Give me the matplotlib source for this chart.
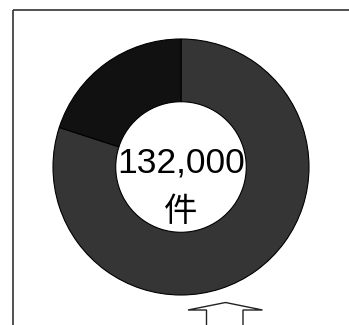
import matplotlib
matplotlib.use('Agg')
import matplotlib.pyplot as plt
from matplotlib.patches import Rectangle, Polygon

# data
labels = ['その他', '該当']
shares = [80, 20]
colors = ['#353535', '#111111']
total_label = '132,000'
unit_label = '件'

W, H = 349, 325
fig = plt.figure(figsize=(W / 100, H / 100), dpi=100)
fig.patch.set_facecolor('white')

# background axes in pixel coordinates (frame + arrow)
bg = fig.add_axes([0, 0, 1, 1])
bg.set_xlim(0, W)
bg.set_ylim(H, 0)
bg.axis('off')
bg.add_patch(Rectangle((12.5, 9.5), 400, 400, fill=False, edgecolor='#333333', linewidth=1.2))
arrow = [(225.5, 302.5), (262.5, 310), (243, 310), (243, 340),
         (206.5, 340), (206.5, 310), (188, 310)]
bg.add_patch(Polygon(arrow, closed=True, fill=False, edgecolor='#222222', linewidth=1.0))

# donut
cx, cy, r = 181, 167, 128
ax = fig.add_axes([(cx - r) / W, (H - cy - r) / H, 2 * r / W, 2 * r / H])
ax.pie(shares, colors=colors, startangle=90, counterclock=False,
       wedgeprops=dict(width=0.49, edgecolor='black', linewidth=0.8))
ax.set_xlim(-1, 1)
ax.set_ylim(-1, 1)
ax.set_aspect('equal')
ax.axis('off')

ax.text(0, 0.03, total_label, ha='center', va='center', fontsize=25.5,
        family=['Liberation Sans', 'DejaVu Sans'])
ax.text(0, -0.35, unit_label, ha='center', va='center', fontsize=24,
        family=['Noto Sans CJK JP', 'DejaVu Sans'])

fig.savefig('out.png', dpi=100, facecolor='white')
